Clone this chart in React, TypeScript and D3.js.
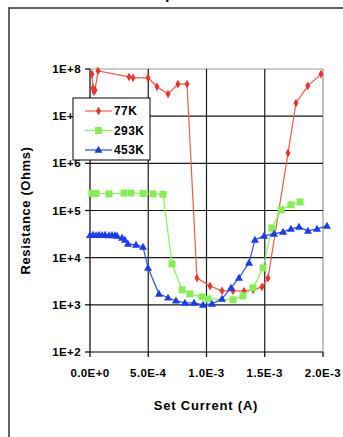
import React from "react";
import * as d3 from "d3";

// Set current (A) and resistance (Ohms)
const red77K_I = [1.7e-5, 2.6e-5, 3.4e-5, 4.3e-5, 6.9e-5, 3.35e-4, 3.69e-4, 4.98e-4, 5.75e-4, 6.7e-4, 7.55e-4, 8.33e-4, 9.18e-4, 1.03e-3, 1.133e-3, 1.228e-3, 1.322e-3, 1.4e-3, 1.476e-3, 1.528e-3, 1.7e-3, 1.768e-3, 1.87e-3, 1.983e-3];
const red77K_R = [7.8e7, 3.9e7, 3.3e7, 3.6e7, 9.1e7, 6.8e7, 6.5e7, 6.5e7, 4.2e7, 2.95e7, 4.8e7, 4.8e7, 3700, 2500, 1980, 1980, 1950, 2080, 2400, 3700, 1.66e6, 1.9e7, 4.4e7, 7.8e7];

const green293K_I = [1.7e-5, 5.2e-5, 1.63e-4, 2.92e-4, 3.52e-4, 4.55e-4, 5.41e-4, 6.27e-4, 7.04e-4, 7.9e-4, 8.58e-4, 9.61e-4, 1.013e-3, 1.228e-3, 1.313e-3, 1.399e-3, 1.485e-3, 1.562e-3, 1.64e-3, 1.725e-3, 1.803e-3];
const green293K_R = [2.3e5, 2.3e5, 2.25e5, 2.35e5, 2.35e5, 2.3e5, 2.25e5, 2.2e5, 7400, 2080, 1710, 1480, 1340, 1280, 1550, 2290, 6080, 42800, 1.03e5, 1.32e5, 1.52e5];

const blue453K_I = [0, 2.6e-5, 5.2e-5, 7.7e-5, 1.03e-4, 1.29e-4, 1.63e-4, 1.89e-4, 2.15e-4, 2.32e-4, 2.75e-4, 3.0e-4, 3.26e-4, 3.95e-4, 4.55e-4, 4.98e-4, 5.92e-4, 6.7e-4, 7.38e-4, 8.15e-4, 8.93e-4, 9.7e-4, 1.047e-3, 1.133e-3, 1.21e-3, 1.279e-3, 1.365e-3, 1.416e-3, 1.494e-3, 1.579e-3, 1.657e-3, 1.725e-3, 1.794e-3, 1.871e-3, 1.949e-3, 2.034e-3];
const blue453K_R = [30000, 30500, 29800, 30400, 30000, 30300, 29600, 30000, 29500, 29000, 26300, 23800, 19600, 18700, 16900, 6080, 1710, 1410, 1220, 1100, 1100, 1000, 1050, 1340, 2290, 3730, 7760, 23800, 29000, 31900, 35200, 40700, 45000, 37000, 40700, 47200];

const xTickValues = [0, 5e-4, 1e-3, 1.5e-3, 2e-3];
const xTickLabels = ["0.0E+0", "5.0E-4", "1.0E-3", "1.5E-3", "2.0E-3"];
const yTickValues = [1e2, 1e3, 1e4, 1e5, 1e6, 1e7, 1e8];
const yTickLabels = ["1E+2", "1E+3", "1E+4", "1E+5", "1E+6", "1E+7", "1E+8"];
const seriesNames = ["77K", "293K", "453K"];

const FONT = "'Liberation Sans', Arial, sans-serif";

const App = () => {
  const x = d3.scaleLinear().domain([0, 2e-3]).range([90, 323]);
  const y = d3.scaleLog().domain([1e2, 1e8]).range([352, 69]);

  const series = [
    { name: seriesNames[0], I: red77K_I, R: red77K_R, line: "#f05a4c", fill: "#e8362c", shape: "diamond" },
    { name: seriesNames[1], I: green293K_I, R: green293K_R, line: "#8ef060", fill: "#86ee55", shape: "square" },
    { name: seriesNames[2], I: blue453K_I, R: blue453K_R, line: "#2a4cf0", fill: "#1a3cf0", shape: "triangle" },
  ];

  const line = d3
    .line<[number, number]>()
    .x((d) => x(d[0]))
    .y((d) => y(d[1]));

  const marker = (shape: string, cx: number, cy: number, fill: string, key: string) => {
    if (shape === "diamond") {
      const p = d3.symbol().type(d3.symbolDiamond).size(22)();
      return <path key={key} d={p || ""} transform={`translate(${cx},${cy})`} fill={fill} />;
    }
    if (shape === "square") {
      return <rect key={key} x={cx - 3.5} y={cy - 3.5} width={7} height={7} fill={fill} />;
    }
    const p = d3.symbol().type(d3.symbolTriangle).size(28)();
    return <path key={key} d={p || ""} transform={`translate(${cx},${cy + 0.5})`} fill={fill} />;
  };

  const [x0, x1] = x.range();
  const [yb, yt] = y.range();

  return (
    <svg
      width={343}
      height={437}
      style={{ position: "absolute", left: 0, top: 0, background: "#fff" }}
      fontFamily={FONT}
    >
      {/* cut-off title above the frame */}
      <text x={170} y={-1} textAnchor="middle" fontSize={16} fontWeight="bold" fill="#000">
        p
      </text>
      <rect x={9} y={8} width={345} height={440} fill="none" stroke="#333" strokeWidth={1.5} />

      {/* plot border + grid */}
      <line x1={x0} x2={x1} y1={yt} y2={yt} stroke="#999" strokeWidth={1.2} />
      <line x1={x1} x2={x1} y1={yt} y2={yb} stroke="#999" strokeWidth={1.2} />
      {yTickValues.slice(1, -1).map((v) => (
        <line key={"gy" + v} x1={x0} x2={x1} y1={y(v)} y2={y(v)} stroke="#1a1a1a" strokeWidth={1.2} />
      ))}
      {xTickValues.slice(1, -1).map((v) => (
        <line key={"gx" + v} x1={x(v)} x2={x(v)} y1={yt} y2={yb} stroke="#1a1a1a" strokeWidth={1.2} />
      ))}

      {/* axes */}
      <line x1={x0} x2={x0} y1={yt} y2={yb} stroke="#000" strokeWidth={1.2} />
      <line x1={x0} x2={x1} y1={yb} y2={yb} stroke="#000" strokeWidth={1.2} />
      {yTickValues.map((v, i) => (
        <g key={"yt" + v}>
          <line x1={x0 - 5} x2={x0} y1={y(v)} y2={y(v)} stroke="#000" strokeWidth={1.2} />
          <text
            x={81}
            y={y(v)}
            dy="0.36em"
            textAnchor="end"
            fontSize={11.5}
            fontWeight="bold"
            letterSpacing={0.4}
            fill="#000"
          >
            {yTickLabels[i]}
          </text>
        </g>
      ))}
      {xTickValues.map((v, i) => (
        <g key={"xt" + v}>
          <line x1={x(v)} x2={x(v)} y1={yb} y2={yb + 5} stroke="#000" strokeWidth={1.2} />
          <text
            x={x(v)}
            y={377}
            textAnchor="middle"
            fontSize={11.5}
            fontWeight="bold"
            letterSpacing={0.4}
            fill="#000"
          >
            {xTickLabels[i]}
          </text>
        </g>
      ))}
      <text x={206} y={410} textAnchor="middle" fontSize={13} fontWeight="bold" letterSpacing={0.8} fill="#000">
        Set Current (A)
      </text>
      <text
        transform={`translate(30,${(yt + yb) / 2}) rotate(-90)`}
        textAnchor="middle"
        fontSize={13}
        fontWeight="bold"
        letterSpacing={0.6}
        fill="#000"
      >
        Resistance (Ohms)
      </text>

      {/* series */}
      {series.map((s) => {
        const pts = s.I.map((v, i) => [v, s.R[i]] as [number, number]);
        return (
          <g key={s.name}>
            <path d={line(pts) || ""} fill="none" stroke={s.line} strokeWidth={1.2} />
            {pts.map((p, i) => marker(s.shape, x(p[0]), y(p[1]), s.fill, s.name + i))}
          </g>
        );
      })}

      {/* legend */}
      <rect x={73} y={98} width={77} height={62} fill="#fff" stroke="#000" strokeWidth={1} />
      {series.map((s, i) => {
        const ly = 111 + i * 19.5;
        return (
          <g key={"lg" + s.name}>
            <line x1={85} x2={112} y1={ly} y2={ly} stroke={s.line} strokeWidth={1.2} />
            {marker(s.shape, 98.5, ly, s.fill, "lm" + i)}
            <text x={114} y={ly} dy="0.36em" fontSize={12} fontWeight="bold" letterSpacing={0.4} fill="#000">
              {s.name}
            </text>
          </g>
        );
      })}
    </svg>
  );
};

export default App;
